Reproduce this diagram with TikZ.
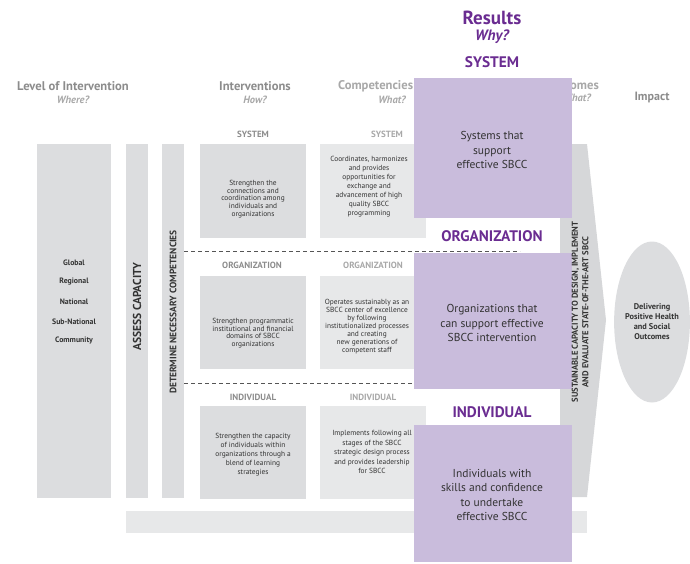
\documentclass[tikz,border=0pt]{standalone}
\usepackage{fontspec}
\setmainfont{PT Sans}
\usetikzlibrary{shapes.geometric}
\definecolor{boxA}{HTML}{DCDDDF}
\definecolor{boxB}{HTML}{E7E8E9}
\definecolor{arrowgray}{HTML}{D6D7D9}
\definecolor{lav}{HTML}{C9BCDC}
\definecolor{purp}{HTML}{6A2C91}
\definecolor{hdrgray}{HTML}{8C8C8C}
\definecolor{hdrlight}{HTML}{A8A8A8}
\definecolor{txt}{HTML}{333333}
\definecolor{dashc}{HTML}{555555}
\tikzset{
  hdr/.style={font=\fontsize{12.6}{14}\selectfont\bfseries, text=hdrgray, inner sep=0},
  hdrsub/.style={font=\fontsize{10.5}{12}\selectfont\bfseries\itshape, text=hdrlight, inner sep=0},
  rowhdr/.style={font=\fontsize{9}{10}\selectfont\bfseries, text=hdrgray, inner sep=0},
  boxtxt/.style={font=\fontsize{7.4}{7.6}\selectfont, text=txt, align=center, inner sep=0},
  lvltxt/.style={font=\fontsize{7.8}{9}\selectfont\bfseries, text=txt, inner sep=0},
  bartxt/.style={font=\fontsize{9.4}{10}\selectfont\bfseries, text=txt, rotate=90, inner sep=0, align=center},
  purptxt/.style={font=\fontsize{11.5}{14.2}\selectfont, text=txt, align=center, inner sep=0},
  purphdr/.style={font=\fontsize{15.3}{16}\selectfont\bfseries, text=purp, inner sep=0},
  dashline/.style={draw=dashc, line width=0.8pt, dash pattern=on 4pt off 3pt},
}
\begin{document}
\begin{tikzpicture}[x=1pt,y=-1pt]
\useasboundingbox (0,0) rectangle (690,563);
% left columns
\fill[boxA] (37,144) rectangle (111,498);
\fill[boxA] (126,144) rectangle (148,498);
\fill[boxA] (162,144) rectangle (184,498);
% gray arrow column
\fill[arrowgray] (560,144) -- (587,144) -- (606,320) -- (587,497) -- (560,497) -- cycle;
% bottom bar
\fill[boxB] (126,511) rectangle (587,533);
% intervention boxes
\fill[boxA] (200,144) rectangle (306,238);
\fill[boxA] (200,276) rectangle (306,369);
\fill[boxA] (200,406) rectangle (306,499);
% competency boxes
\fill[boxB] (320,144) rectangle (426,238);
\fill[boxB] (320,276) rectangle (426,369);
\fill[boxB] (320,406) rectangle (426,499);
% column headers
\node[hdr] (hlvl) at (73,86) {Level of Intervention};
\node[hdrsub] (hwhere) at (73,100) {Where?};
\node[hdr] (hint) at (255,86) {Interventions};
\node[hdrsub] (hhow) at (255,100) {How?};
\node[hdr, text=hdrlight, anchor=west] (hcomp) at (338,86) {Competencies};
\node[hdrsub] (hwhat) at (392,100) {What?};
\node[hdr, text=hdrlight, anchor=east] (hout) at (599,85) {Outcomes};
\node[hdrsub, anchor=east] (hwhat2) at (591,98) {What?};
\node[hdr, font=\fontsize{12}{14}\selectfont\bfseries] (himp) at (652,97) {Impact};
% level list
\node[lvltxt] (lg) at (74,263) {Global};
\node[lvltxt] (lr) at (74,282) {Regional};
\node[lvltxt] (ln) at (74,302) {National};
\node[lvltxt] (ls) at (74,322) {Sub-National};
\node[lvltxt] (lc) at (74,341) {Community};
% vertical bars
\node[bartxt, font=\fontsize{11.5}{12}\selectfont\bfseries] (assess) at (137,307) {ASSESS CAPACITY};
\node[bartxt] (determine) at (173,312) {DETERMINE NECESSARY COMPETENCIES};
% row headers
\node[rowhdr] (rs1) at (253,134) {SYSTEM};
\node[rowhdr, text=hdrlight] (rs2) at (387,134) {SYSTEM};
\node[rowhdr] (ro1) at (252,265) {ORGANIZATION};
\node[rowhdr, text=hdrlight] (ro2) at (373,265) {ORGANIZATION};
\node[rowhdr] (ri1) at (253,397) {INDIVIDUAL};
\node[rowhdr, text=hdrlight] (ri2) at (373,397) {INDIVIDUAL};
% box texts
\node[boxtxt] (tis) at (253,199) {Strengthen the\\connections and\\coordination among\\individuals and\\organizations};
\node[boxtxt, font=\fontsize{7.4}{9}\selectfont] (tcs) at (369,187) {Coordinates, harmonizes\\and provides\\opportunities for\\exchange and\\advancement of high\\quality SBCC\\programming};
\node[boxtxt] (tio) at (253,333) {Strengthen programmatic\\institutional and financial\\domains of SBCC\\organizations};
\node[boxtxt, font=\fontsize{7.4}{8}\selectfont] (tco) at (367,327) {Operates sustainably as an\\SBCC center of excellence\\by following\\institutionalized processes\\and creating\\new generations of\\competent staff};
\node[boxtxt, font=\fontsize{7.4}{9}\selectfont] (tii) at (253,455) {Strengthen the capacity\\of individuals within\\organizations through a\\blend of learning\\strategies};
\node[boxtxt, font=\fontsize{7.4}{9.5}\selectfont] (tci) at (372,452) {Implements following all\\stages of the SBCC\\strategic design process\\and provides leadership\\for SBCC};
% dashed separators
\coordinate (d1a) at (184,251);
\coordinate (d1b) at (520,251);
\coordinate (d2a) at (184,383);
\coordinate (d2b) at (414,383);
\draw[dashline] (d1a) -- (d1b);
\draw[dashline] (d2a) -- (d2b);
% impact ellipse
\node[ellipse, fill=boxA, minimum width=68, minimum height=161, inner sep=0, align=center, font=\fontsize{8.3}{10}\selectfont\bfseries, text=txt] (impact) at (652,322) {Delivering\\Positive Health\\and Social\\Outcomes};
% purple result boxes
\fill[lav] (414,78) rectangle (572,218);
\fill[lav] (414,252.5) rectangle (572,389);
\fill[lav] (414,425) rectangle (572,562);
\node[purptxt] (ps) at (492,150) {Systems that\\support\\effective SBCC};
\node[purptxt] (po) at (492,323) {Organizations that\\can support effective\\SBCC intervention};
\node[purptxt, font=\fontsize{11.5}{14.5}\selectfont] (pi) at (492,495) {Individuals with\\skills and confidence\\to undertake\\effective SBCC};
% sustainability text
\node[bartxt, font=\fontsize{8.6}{10.5}\selectfont\bfseries] (sust) at (580,312) {SUSTAINABLE CAPACITY TO DESIGN, IMPLEMENT\\AND EVALUATE STATE-OF-THE-ART SBCC};
% purple headers
\node[purphdr, font=\fontsize{19}{20}\selectfont\bfseries] (res) at (492,18) {Results};
\node[purphdr, font=\fontsize{15}{16}\selectfont\bfseries\itshape] (why) at (492,37) {Why?};
\node[purphdr] (psys) at (492,62) {SYSTEM};
\node[purphdr] (porg) at (492,236) {ORGANIZATION};
\node[purphdr] (pind) at (492,412) {INDIVIDUAL};
\end{tikzpicture}
\end{document}
